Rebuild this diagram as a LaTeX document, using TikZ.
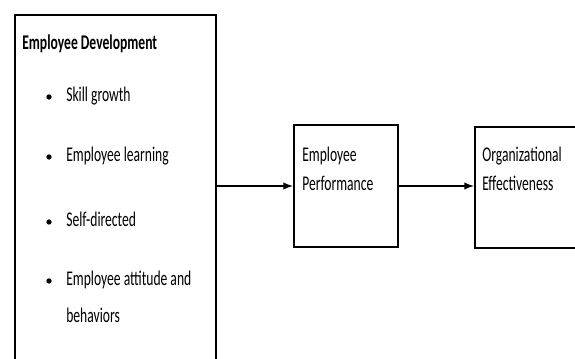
\documentclass[tikz,border=0pt]{standalone}
\usepackage{fontspec}
\setmainfont{Carlito}[FakeStretch=0.65]
\usetikzlibrary{arrows,positioning}

\begin{document}
\begin{tikzpicture}[
    x=0.75pt, y=-0.75pt,
    box/.style={draw, line width=1.5pt, anchor=north west, inner sep=0pt},
    txt/.style={anchor=base west, inner sep=0pt, align=left, font=\fontsize{15.7}{21.75}\selectfont},
    item/.style={txt, font=\fontsize{15.7}{27.75}\selectfont},
    dot/.style={circle, fill=black, inner sep=0pt, minimum size=4pt},
    arrow/.style={->, >=latex, line width=1.5pt}
]

\useasboundingbox (0,0) rectangle (575,359);
\clip (0,0) rectangle (575,359);

% Boxes
\node[box, minimum width=201*0.75pt, minimum height=420*0.75pt] (dev) at (14,14) {};
\node[box, minimum width=104*0.75pt, minimum height=122*0.75pt] (perf) at (293,124) {};
\node[box, minimum width=120*0.75pt, minimum height=121*0.75pt] (eff) at (474,126) {};

% Development list
\node[txt, font=\bfseries\fontsize{15.7}{21.75}\selectfont] (title) at (22,50) {Employee Development};
\node[item] (skill) at (66,102) {Skill growth};
\node[item] (learn) at (66,162) {Employee learning};
\node[item] (self) at (66,227) {Self-directed};
\node[item] (attit) at (66,323) {Employee attitude and\\behaviors};
\foreach \n/\y in {skill/102,learn/162,self/227,attit/286}
    \node[dot] at (49,\y-5) {};

% Box texts
\node[txt] (perftxt) at (302,191) {Employee\\Performance};
\node[txt] (efftxt) at (482,191) {Organizational\\Effectiveness};

% Arrows
\draw[arrow] (dev.east |- perf.west) -- (perf.west);
\draw[arrow] (perf.east) -- (eff.west |- perf.east);

\end{tikzpicture}
\end{document}
